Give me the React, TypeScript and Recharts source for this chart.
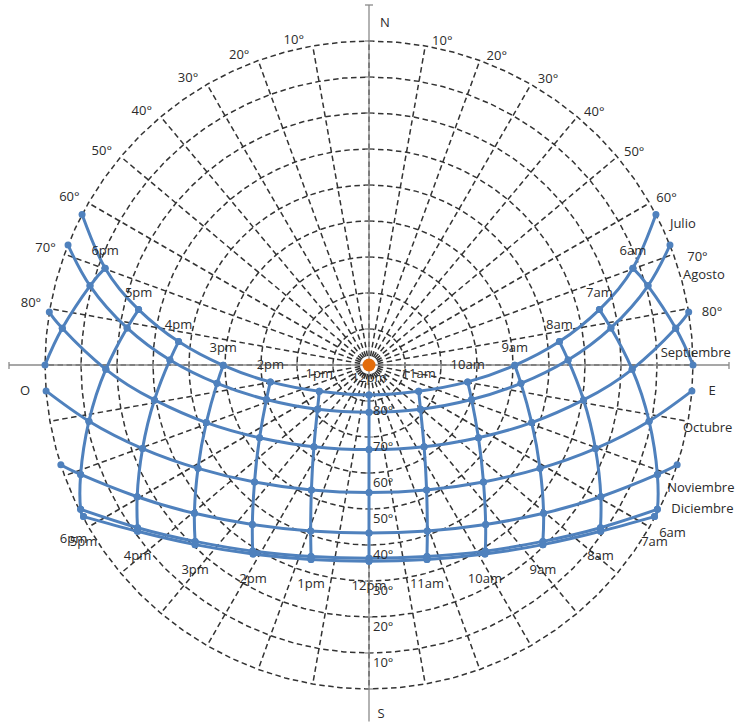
import React from 'react';
import { ScatterChart, Scatter, XAxis, YAxis } from 'recharts';

// sun path for every month: [sunrise, 6am ... 6pm, sunset] in chart units
// (x = east, y = north, radius = 90 - altitude)
const hourNames = ['6am', '7am', '8am', '9am', '10am', '11am', '12pm', '1pm', '2pm', '3pm', '4pm', '5pm', '6pm'];
const monthNames = ['Julio', 'Agosto', 'Septiembre', 'Octubre', 'Noviembre', 'Diciembre', ''];

const julioX = [79.7, 73.3, 64.0, 52.9, 40.5, 27.4, 13.8, 0, -13.8, -27.4, -40.5, -52.9, -64.0, -73.3, -79.7];
const julioY = [41.8, 26.9, 15.4, 6.5, -0.1, -4.7, -7.3, -8.3, -7.3, -4.7, -0.1, 6.5, 15.4, 26.9, 41.8];
const agostoX = [83.6, 77.5, 67.2, 55.3, 42.2, 28.5, 14.3, 0, -14.3, -28.5, -42.2, -55.3, -67.2, -77.5, -83.6];
const agostoY = [33.3, 22.0, 10.3, 1.4, -5.1, -9.6, -12.3, -13.1, -12.3, -9.6, -5.1, 1.4, 10.3, 22.0, 33.3];
const septiembreX = [88.8, 85.2, 73.1, 59.6, 45.2, 30.4, 15.3, 0, -15.3, -30.4, -45.2, -59.6, -73.1, -85.2, -88.8];
const septiembreY = [14.7, 10.2, -1.2, -9.7, -16.0, -20.2, -22.7, -23.5, -22.7, -20.2, -16.0, -9.7, -1.2, 10.2, 14.7];
const octubreX = [89.7, null, 77.8, 62.9, 47.5, 31.8, 16.0, 0, -16.0, -31.8, -47.5, -62.9, -77.8, null, -89.7];
const octubreY = [-7.2, null, -15.6, -23.2, -28.7, -32.5, -34.7, -35.4, -34.7, -32.5, -28.7, -23.2, -15.6, null, -7.2];
const noviembreX = [85.6, null, 80.1, 64.4, 48.5, 32.4, 16.2, 0, -16.2, -32.4, -48.5, -64.4, -80.1, null, -85.6];
const noviembreY = [-27.7, null, -30.4, -36.6, -41.2, -44.3, -46.1, -46.7, -46.1, -44.3, -41.2, -36.6, -30.4, null, -27.7];
const diciembreX = [null, null, 80.1, 64.3, 48.3, 32.3, 16.1, 0, -16.1, -32.3, -48.3, -64.3, -80.1, null, null];
const diciembreY = [null, null, -40.1, -45.2, -49.0, -51.7, -53.2, -53.7, -53.2, -51.7, -49.0, -45.2, -40.1, null, null];
const solsticioX = [null, null, 79.3, 64.3, 48.3, 32.2, 16.1, 0, -16.1, -32.2, -48.3, -64.3, -79.3, null, null];
const solsticioY = [null, null, -42.1, -46.2, -49.9, -52.5, -54.0, -54.5, -54.0, -52.5, -49.9, -46.2, -42.1, null, null];

// 6am / 6pm lines end on the horizon
const sixEndX = [90, -90];
const sixEndY = [0, 0];

const altitudeRings = [80, 70, 60, 50, 40, 30, 20, 10, 0];
const altitudeLabels = [80, 70, 60, 50, 40, 30, 20, 10];
const azimuthLabels = [10, 20, 30, 40, 50, 60, 70, 80];
const axisTicks = [-100, -90, -80, -70, -60, -50, -40, -30, -20, -10, 0, 10, 20, 30, 40, 50, 60, 70, 80, 90, 100];

const BLUE = '#4F81BD';
const GRID = '#333333';
const TEXT = '#2b2b2b';
const FONT = '"Open Sans", "Noto Sans", sans-serif';

const monthX = [julioX, agostoX, septiembreX, octubreX, noviembreX, diciembreX, solsticioX];
const monthY = [julioY, agostoY, septiembreY, octubreY, noviembreY, diciembreY, solsticioY];

const polar = (r: number, az: number) => ({
  x: r * Math.sin((az * Math.PI) / 180),
  y: r * Math.cos((az * Math.PI) / 180),
});

const ringData = altitudeRings.map((alt) => {
  const pts = [];
  for (let a = 0; a <= 360; a += 5) pts.push(polar(90 - alt, a));
  return pts;
});

const spokeData = Array.from({ length: 36 }, (_, i) => [{ x: 0, y: 0 }, polar(90, i * 10)]);

const monthSeries = monthX.map((xs, m) =>
  xs.map((x, i) => ({ x, y: monthY[m][i] })).filter((p) => p.x !== null)
);

const hourSeries = hourNames.map((_, h) => {
  const pts = monthX
    .map((xs, m) => ({ x: xs[h + 1], y: monthY[m][h + 1] }))
    .filter((p) => p.x !== null);
  if (h === 0) pts.push({ x: sixEndX[0], y: sixEndY[0] });
  if (h === 12) pts.push({ x: sixEndX[1], y: sixEndY[1] });
  return pts;
});

// label placement (pixels)
const monthLabelOffset = [
  [14, 8], [13, 29], [-28, 40], [-9, 36], [-10, 22], [14, -1],
];

const topHourLabels = hourNames.map((text, h) => ({
  x: julioX[h + 1], y: julioY[h + 1], text, dx: 0, dy: -18, anchor: 'middle',
}));

const lastInColumn = (col: number) => {
  for (let m = monthX.length - 1; m >= 0; m--) {
    if (monthX[m][col] !== null) return { x: monthX[m][col] as number, y: monthY[m][col] as number };
  }
  return { x: 0, y: 0 };
};

const bottomHourLabels = hourNames.map((text, h) => {
  if (h === 0) return { ...lastInColumn(2), text, dx: 18, dy: 15, anchor: 'middle' };
  if (h === 12) return { ...lastInColumn(12), text, dx: -10, dy: 21, anchor: 'middle' };
  return { ...lastInColumn(h + 1), text, dx: 0, dy: 24, anchor: 'middle' };
});

const monthLabels = monthNames.slice(0, 6).map((text, m) => ({
  ...monthSeries[m][0], text, dx: monthLabelOffset[m][0], dy: monthLabelOffset[m][1], anchor: 'start',
}));

const azLabels = [
  ...azimuthLabels.map((a) => ({ ...polar(90, a), text: `${a}°`, dx: a >= 70 ? 24 : 17, dy: a >= 70 ? 2 : -6, anchor: 'middle' })),
  ...azimuthLabels.map((a) => ({ ...polar(90, -a), text: `${a}°`, dx: -19, dy: -7, anchor: 'middle' })),
];

const altLabels = altitudeLabels.map((alt) => ({
  x: 0, y: -(90 - alt), text: `${alt}°`, dx: 4, dy: 9, anchor: 'start',
}));

const cardinalLabels = [
  { x: 0, y: 90, text: 'N', dx: 16, dy: -19, anchor: 'middle' },
  { x: 0, y: -90, text: 'S', dx: 12, dy: 24, anchor: 'middle' },
  { x: -90, y: 0, text: 'O', dx: -20, dy: 25, anchor: 'middle' },
  { x: 90, y: 0, text: 'E', dx: 19, dy: 25, anchor: 'middle' },
];

const allLabels = [...topHourLabels, ...bottomHourLabels, ...monthLabels, ...azLabels, ...altLabels, ...cardinalLabels];

const xTickData = axisTicks.map((t) => ({ x: t, y: 0 }));
const yTickData = axisTicks.filter((t) => t >= -99).map((t) => ({ x: 0, y: t }));

const noShape = () => <g />;

const Marker = (p: any) => <circle cx={p.cx} cy={p.cy} r={3.5} fill={BLUE} />;

const LabelShape = (p: any) => (
  <text
    x={p.cx + p.payload.dx}
    y={p.cy + p.payload.dy}
    textAnchor={p.payload.anchor}
    dominantBaseline="central"
    fontFamily={FONT}
    fontSize={13}
    fill={TEXT}
  >
    {p.payload.text}
  </text>
);

const XTick = (p: any) => <line x1={p.cx} x2={p.cx} y1={p.cy - 3} y2={p.cy + 4} stroke="#8a8a8a" strokeWidth={1.3} />;
const YTick = (p: any) => <line x1={p.cx - 4} x2={p.cx + 4} y1={p.cy} y2={p.cy} stroke="#8a8a8a" strokeWidth={1.3} />;

const SunDot = (p: any) => <circle cx={p.cx} cy={p.cy} r={6.5} fill="#E36C0A" />;

export default function App() {
  return (
    <div style={{ position: 'fixed', left: 0, top: 0, width: 741, height: 723, background: '#fff' }}>
      <ScatterChart width={741} height={723} margin={{ top: 5, right: 12, bottom: 1.6, left: 9 }}>
        <XAxis type="number" dataKey="x" domain={[-100, 100]} hide />
        <YAxis type="number" dataKey="y" domain={[-99, 100]} hide />

        {ringData.map((d, i) => (
          <Scatter key={`ring${i}`} data={d} line={{ stroke: GRID, strokeWidth: 1.5, strokeDasharray: '5.5 3.5' }} shape={noShape} isAnimationActive={false} />
        ))}
        {spokeData.map((d, i) => (
          <Scatter key={`spoke${i}`} data={d} line={{ stroke: GRID, strokeWidth: 1.5, strokeDasharray: '5.5 3.5' }} shape={noShape} isAnimationActive={false} />
        ))}

        <Scatter data={[{ x: -100, y: 0 }, { x: 100, y: 0 }]} line={{ stroke: '#8a8a8a', strokeWidth: 1.3 }} shape={noShape} isAnimationActive={false} />
        <Scatter data={[{ x: 0, y: 100 }, { x: 0, y: -99 }]} line={{ stroke: '#8a8a8a', strokeWidth: 1.3 }} shape={noShape} isAnimationActive={false} />
        <Scatter data={xTickData} shape={XTick} isAnimationActive={false} />
        <Scatter data={yTickData} shape={YTick} isAnimationActive={false} />

        {monthSeries.map((d, i) => (
          <Scatter key={`month${i}`} name={monthNames[i]} data={d} line={{ stroke: BLUE, strokeWidth: 3 }} lineJointType="natural" shape={Marker} isAnimationActive={false} />
        ))}
        {hourSeries.map((d, i) => (
          <Scatter key={`hour${i}`} name={hourNames[i]} data={d} line={{ stroke: BLUE, strokeWidth: 3 }} lineJointType="natural" shape={Marker} isAnimationActive={false} />
        ))}

        <Scatter data={[{ x: 0, y: 0 }]} shape={SunDot} isAnimationActive={false} />
        <Scatter data={allLabels} shape={LabelShape} isAnimationActive={false} />
      </ScatterChart>
    </div>
  );
}
